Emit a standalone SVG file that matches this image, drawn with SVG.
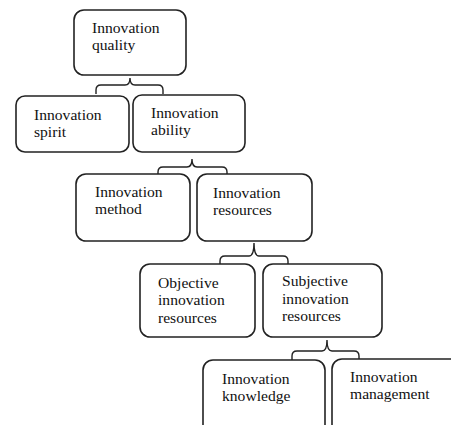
<svg xmlns="http://www.w3.org/2000/svg" width="451" height="425" viewBox="0 0 451 425">
<style>
.box{fill:#fff;stroke:#222;stroke-width:1.6}
.br{fill:none;stroke:#222;stroke-width:1.4}
text{font-family:"Liberation Serif","Times New Roman",serif;font-size:15.6px;fill:#111}
</style>
<rect width="451" height="425" fill="#fff"/>
<g id="connectors">
<path class="br" d="M96,94 V90 Q96,85 101,85 H125 Q130,85 130,78 Q130,85 135,85 H158 Q163,85 163,90 V94"/>
<path class="br" d="M158,174 V172 Q158,167 163,167 H187 Q192,167 192,159 Q192,167 197,167 H222 Q227,167 227,172 V174"/>
<path class="br" d="M220,264 V261 Q220,256 225,256 H249 Q254,256 254,243 Q254,256 259,256 H283 Q288,256 288,261 V264"/>
<path class="br" d="M292,360 V356 Q292,351 297,351 H322 Q327,351 327,340 Q327,351 332,351 H354 Q359,351 359,356 V360"/>
</g>
<g id="quality"><rect class="box" x="74" y="10" width="112" height="65" rx="10"/><text x="92" y="32.5">Innovation<tspan x="92" dy="17.5">quality</tspan></text></g>
<g id="spirit"><rect class="box" x="16" y="96" width="113" height="56" rx="9"/><text x="34" y="119.5">Innovation<tspan x="34" dy="17.5">spirit</tspan></text></g>
<g id="ability"><rect class="box" x="133" y="95" width="112" height="57" rx="9"/><text x="151" y="117.5">Innovation<tspan x="151" dy="17.5">ability</tspan></text></g>
<g id="method"><rect class="box" x="76" y="174" width="114" height="67" rx="10"/><text x="95" y="196.5">Innovation<tspan x="95" dy="17.5">method</tspan></text></g>
<g id="resources"><rect class="box" x="197" y="174" width="115" height="67" rx="10"/><text x="213" y="197.5">Innovation<tspan x="213" dy="17.5">resources</tspan></text></g>
<g id="objective"><rect class="box" x="140" y="264" width="115" height="73" rx="10"/><text x="158" y="287.5">Objective<tspan x="158" dy="17.5">innovation</tspan><tspan x="158" dy="17.5">resources</tspan></text></g>
<g id="subjective"><rect class="box" x="263" y="264" width="119" height="73" rx="10"/><text x="282" y="286">Subjective<tspan x="282" dy="17.5">innovation</tspan><tspan x="282" dy="17.5">resources</tspan></text></g>
<g id="knowledge"><rect class="box" x="203" y="360" width="122" height="80" rx="10"/><text x="222" y="383.5">Innovation<tspan x="222" dy="17.5">knowledge</tspan></text></g>
<g id="management"><rect class="box" x="332" y="359" width="140" height="80" rx="10"/><text x="350" y="381.5">Innovation<tspan x="350" dy="17.5">management</tspan></text></g>
</svg>
